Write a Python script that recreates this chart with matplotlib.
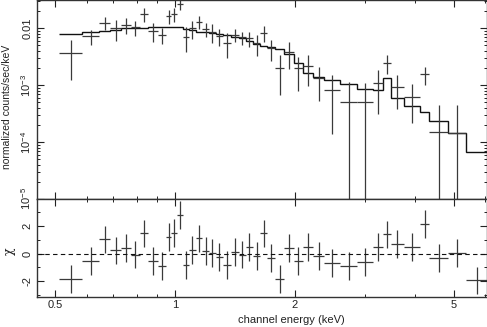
import numpy as np
import matplotlib
matplotlib.use("Agg")
import matplotlib.pyplot as plt
from matplotlib.ticker import LogLocator, NullFormatter, MultipleLocator, FixedLocator

# channel bin edges (keV)
edges = [0.511, 0.584, 0.643, 0.688, 0.730, 0.773, 0.816, 0.856, 0.904,
         0.948, 0.979, 1.010, 1.044, 1.083, 1.127, 1.171, 1.217, 1.265,
         1.318, 1.380, 1.445, 1.505, 1.569, 1.637, 1.701, 1.779, 1.880,
         1.983, 2.091, 2.219, 2.365, 2.594, 2.857, 3.133, 3.331, 3.476,
         3.755, 4.118, 4.345, 4.850, 5.373, 6.05]

# normalized counts/sec/keV and 1-sigma errors
rate = [3.69e-3, 7.2e-3, 1.24e-2, 9.88e-3, 1.13e-2, 1.03e-2, 1.76e-2,
        8.86e-3, 7.54e-3, 1.62e-2, 1.78e-2, 2.64e-2, 7.04e-3, 9.88e-3,
        1.29e-2, 9.49e-3, 8.61e-3, 7.3e-3, 5.52e-3, 7.54e-3, 6.87e-3,
        6.6e-3, 5.39e-3, 8.27e-3, 4.4e-3, 2.01e-3, 3.84e-3, 1.96e-3,
        2.15e-3, 1.31e-3, 8.18e-4, 5.09e-4, 5.09e-4, 1.07e-3, 2.46e-3,
        9.34e-4, 6.23e-4, 1.54e-3, 1.52e-4, 1.42e-4, -5.0e-5]
rate_err = [2.47e-3, 2.2e-3, 3.2e-3, 3.9e-3, 3.5e-3, 3.1e-3, 4.6e-3,
            3.2e-3, 2.34e-3, 4.5e-3, 4.8e-3, 5.8e-3, 3.25e-3, 3.5e-3,
            3.3e-3, 2.6e-3, 3.15e-3, 2.5e-3, 2.55e-3, 1.95e-3, 1.75e-3,
            2.0e-3, 2.15e-3, 2.57e-3, 1.76e-3, 1.35e-3, 1.91e-3, 1.17e-3,
            1.2e-3, 7.8e-4, 6.8e-4, 6.3e-4, 5.6e-4, 7.6e-4, 9.0e-4,
            5.6e-4, 4.06e-4, 5.5e-4, 2.94e-4, 3.04e-4, 5.8e-5]

# folded model
model = [7.85e-3, 8.41e-3, 8.97e-3, 9.4e-3, 9.88e-3, 1.0e-2, 1.02e-2,
         1.03e-2, 1.03e-2, 1.03e-2, 1.03e-2, 1.03e-2, 9.49e-3, 9.22e-3,
         8.61e-3, 8.41e-3, 8.07e-3, 7.75e-3, 7.54e-3, 7.04e-3, 6.6e-3,
         6.03e-3, 5.24e-3, 4.83e-3, 4.64e-3, 4.23e-3, 3.5e-3, 2.43e-3,
         1.62e-3, 1.36e-3, 1.2e-3, 1.04e-3, 8.5e-4, 8.2e-4, 1.343e-3,
         5.99e-4, 4.33e-4, 3.4e-4, 2.34e-4, 1.42e-4, 6.76e-5]

# residuals (data - model) / error
chi = [-1.82, -0.56, 1.02, 0.22, 0.41, -0.07, 1.45, -0.56, -0.92, 1.19,
       1.50, 2.76, -0.85, 0.24, 1.09, 0.17, 0.05, -0.27, -0.85, 0.10,
       -0.07, 0.46, -0.19, 1.45, -0.31, -1.84, 0.41, -0.51, 0.49, -0.15,
       -0.68, -0.92, -0.61, 0.46, 1.38, 0.70, 0.46, 2.11, -0.31, 0.05,
       -1.94]

x_ticks = [0.5, 1, 2, 5]
x_tick_labels = ["0.5", "1", "2", "5"]
y_ticks = [1e-2, 1e-3, 1e-4, 1e-5]
y_tick_labels = ["0.01", "10$^{-3}$", "10$^{-4}$", "10$^{-5}$"]
chi_ticks = [-2, 0, 2]
chi_tick_labels = ["-2", "0", "2"]


def style_axis(ax):
    ax.tick_params(which="both", direction="in", top=True, right=True,
                   labelsize=8, colors="#222222")
    ax.tick_params(which="major", length=5, width=0.8)
    ax.tick_params(which="minor", length=2.5, width=0.7)
    for sp in ax.spines.values():
        sp.set_linewidth(1.0)
        sp.set_color("#333333")


def main():
    plt.rcParams["font.family"] = ["Liberation Sans", "DejaVu Sans"]
    plt.rcParams["mathtext.fontset"] = "custom"
    plt.rcParams["mathtext.rm"] = "Liberation Sans"

    lo = np.array(edges[:-1])
    hi = np.array(edges[1:])
    xc = (lo + hi) / 2

    fig = plt.figure(figsize=(4.87, 3.27), dpi=100)
    ax1 = fig.add_axes([37 / 487, 1 - 199 / 327, 449.5 / 487, 199 / 327])
    ax2 = fig.add_axes([37 / 487, 1 - 297 / 327, 449.5 / 487, 98 / 327],
                       sharex=ax1)

    # top panel: data and model
    ax1.set_xscale("log")
    ax1.set_yscale("log", nonpositive="clip")
    ax1.errorbar(xc, rate, xerr=[xc - lo, hi - xc], yerr=rate_err,
                 fmt="none", ecolor="#3a3a3a", elinewidth=0.9, capsize=0)
    ax1.stairs(model, edges, baseline=None, color="#111111", linewidth=1.0)
    ax1.set_ylim(1e-5, 0.031)
    ax1.set_xlim(0.45, 6.05)
    ax1.yaxis.set_major_locator(FixedLocator(y_ticks))
    ax1.set_yticklabels(y_tick_labels, rotation=90, va="center")
    ax1.yaxis.set_minor_locator(LogLocator(base=10, subs=range(2, 10)))
    ax1.yaxis.set_minor_formatter(NullFormatter())
    ax1.tick_params(axis="x", which="both", labelbottom=False)
    style_axis(ax1)

    # bottom panel: residuals
    ax2.errorbar(xc, chi, xerr=[xc - lo, hi - xc], yerr=1.0,
                 fmt="none", ecolor="#3a3a3a", elinewidth=0.9, capsize=0)
    ax2.axhline(0, color="#111111", linewidth=0.8, linestyle=(0, (4, 3)))
    ax2.set_ylim(-3.13, 3.93)
    ax2.set_yticks(chi_ticks)
    ax2.set_yticklabels(chi_tick_labels, rotation=90, va="center")
    ax2.yaxis.set_minor_locator(MultipleLocator(1))
    ax2.set_xticks(x_ticks)
    ax2.set_xticklabels(x_tick_labels)
    ax2.xaxis.set_minor_locator(LogLocator(base=10, subs=range(1, 10)))
    ax2.xaxis.set_minor_formatter(NullFormatter())
    style_axis(ax2)
    ax2.tick_params(axis="x", pad=2)
    ax1.tick_params(axis="y", pad=3)
    ax2.tick_params(axis="y", pad=3)

    fig.text(7.5 / 487, 1 - 107 / 327, "normalized counts/sec/keV",
             rotation=90, ha="center", va="center", fontsize=7.5,
             color="#222222")
    fig.text(9 / 487, 1 - 251 / 327, "χ", rotation=90, ha="center",
             va="center", fontsize=9, color="#222222",
             family=["DejaVu Serif", "DejaVu Sans"])
    fig.text(291 / 487, 1 - 320 / 327, "channel energy (keV)", ha="center",
             va="center", fontsize=8, color="#222222")

    fig.savefig("out.png", dpi=100)


if __name__ == "__main__":
    main()
